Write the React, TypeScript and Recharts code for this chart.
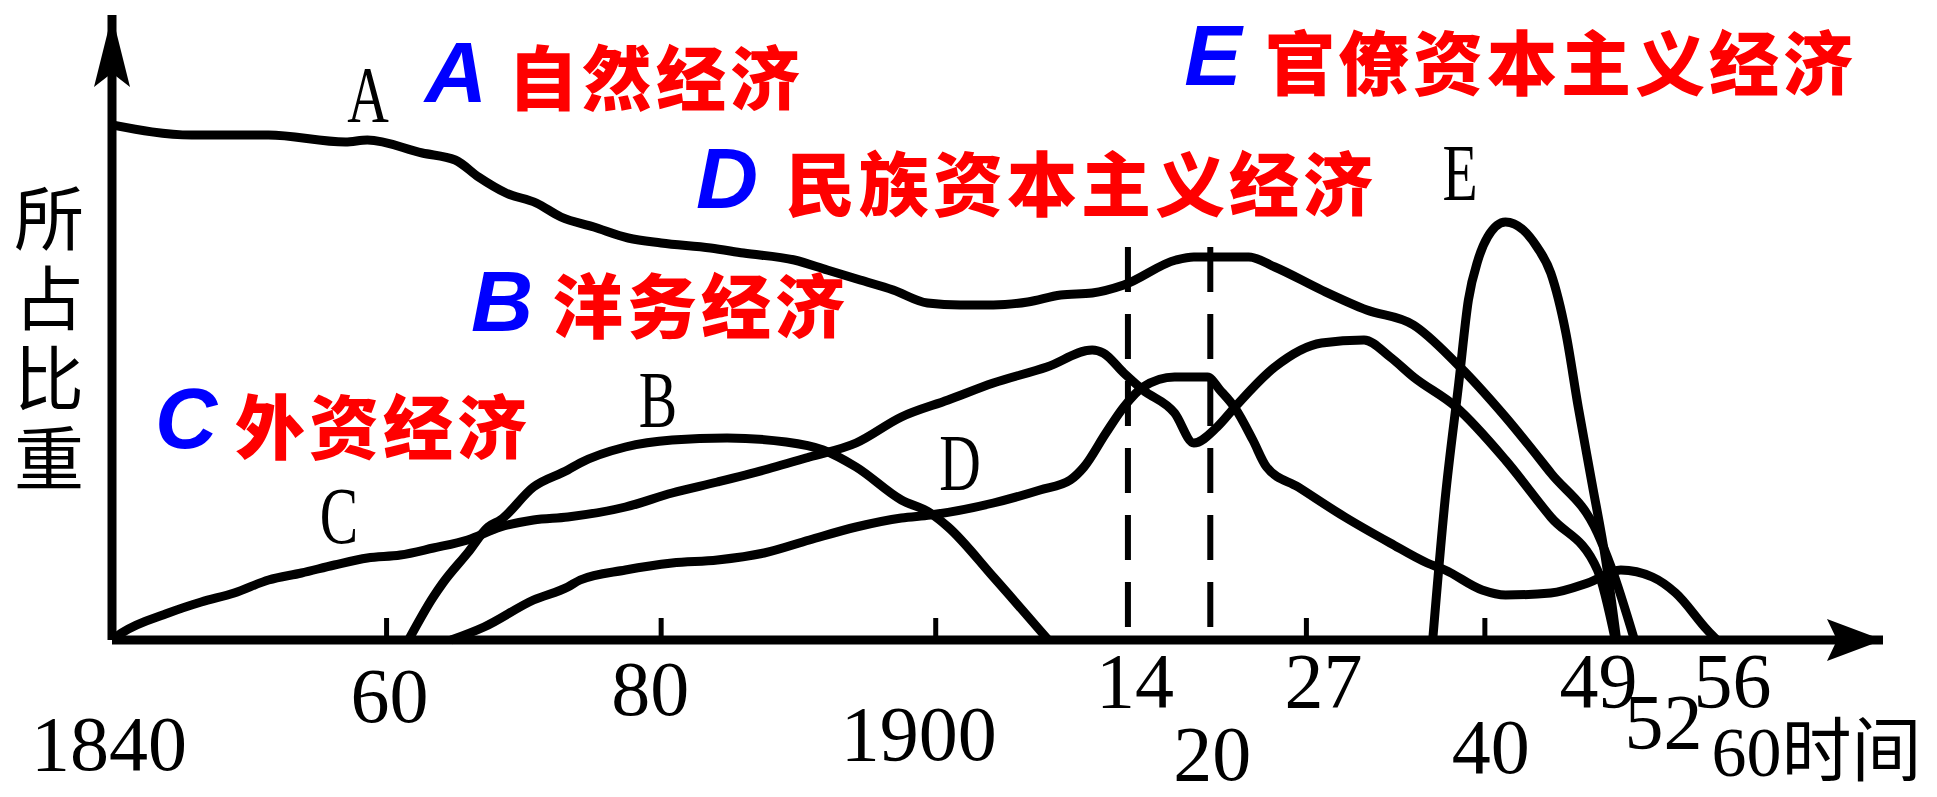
import { LineChart, Line, XAxis, YAxis, ReferenceLine } from "recharts"

// x = year, y = relative share (所占比重)
const A_YEARS = [1840, 1845.8, 1851.4, 1857, 1858.6, 1862.6, 1865, 1866.7, 1868.7, 1870.9, 1872.7, 1875.1, 1877.6, 1880, 1883.6, 1886, 1889.7, 1892.1, 1894.5, 1896.9, 1899.4, 1901.8, 1904.2, 1906.7, 1909.1, 1911.4, 1913.7, 1917.5, 1918.8, 1922.8, 1924.7, 1928.1, 1931.4, 1934.8, 1937.9, 1941.5, 1944.8, 1948.2, 1949.2, 1950.9]
const A_SHARE = [103, 101, 101, 99.6, 100, 97.4, 96, 92.6, 89.4, 87.4, 84.6, 82.6, 80.4, 79.4, 78.4, 77.4, 76, 74, 72, 70, 67.4, 67, 67, 67.6, 69, 69.4, 71, 76, 76.6, 76.6, 74.6, 70, 66, 63, 55.4, 44.6, 33.4, 21.4, 14.6, 0]

const B_YEARS = [1861.6, 1863.4, 1864.1, 1865.9, 1867.4, 1868.3, 1870.7, 1873.2, 1874.1, 1877.4, 1880.8, 1884.8, 1889.1, 1891.8, 1894.2, 1897.5, 1899.6, 1900.9, 1904.2, 1908.2]
const B_SHARE = [0, 8.6, 11.4, 17.4, 22.6, 24, 30.6, 34, 35.4, 38.6, 40, 40.4, 39.6, 38, 34.6, 28, 25.4, 22.6, 12.6, 0]

const C_YEARS = [1840, 1840.7, 1844.1, 1846.5, 1848.9, 1851.4, 1853.8, 1856.2, 1858.6, 1861, 1863.4, 1865.9, 1868.3, 1870.7, 1873.2, 1877.4, 1880.8, 1884.1, 1887.5, 1890.8, 1894.2, 1897.5, 1900.9, 1904.2, 1908.1, 1911.4, 1912.2, 1913.7, 1915.1, 1917.4, 1918.8, 1920.5, 1921.8, 1924.7, 1928.1, 1931.2, 1933.1, 1934.8, 1937.9, 1941.5, 1944.8, 1948.2, 1949.5]
const C_SHARE = [0, 1.4, 5.4, 7.6, 9.4, 12, 13.4, 15, 16.4, 17, 18.4, 20, 22.6, 24, 24.6, 26.6, 29.4, 31.6, 34, 36.6, 39.4, 44.6, 48, 51.4, 54.6, 58, 57.4, 53.4, 50, 45.4, 39.4, 42.6, 46.6, 54.6, 59.4, 60, 56.6, 52.6, 46.6, 36, 24.6, 14, 0]

const D_YEARS = [1864.7, 1867.1, 1870.7, 1873.2, 1874.1, 1877.4, 1880.8, 1884.1, 1887.5, 1890.8, 1894.2, 1897.5, 1899.6, 1904.2, 1907.6, 1909.8, 1910.8, 1912.4, 1913.7, 1915.1, 1917.4, 1919.8, 1920.7, 1921.8, 1923.1, 1924.1, 1926.4, 1929.8, 1933.1, 1935.8, 1937.1, 1939.8, 1941.5, 1944.8, 1947.5, 1949.9, 1952.2, 1953.9, 1956.2, 1956.9]
const D_SHARE = [0, 2.6, 8, 10.6, 12, 14, 15.4, 16, 17.4, 20, 22.6, 24.4, 25, 27.4, 30, 32, 34.6, 41.4, 46.6, 50.6, 52.6, 52.6, 50, 46.4, 40, 34.6, 30.6, 24.6, 19.4, 15.4, 14, 10, 9, 9.4, 11.4, 14, 12.6, 9.4, 2, 0]

const E_YEARS = [1936.2, 1937.1, 1938.1, 1938.8, 1939.5, 1940.2, 1941.5, 1942.8, 1943.8, 1944.8, 1945.9, 1946.8, 1947.8, 1948.8, 1949.6]
const E_SHARE = [0, 28, 51.4, 68, 76, 80.6, 83.6, 82, 78.6, 73.4, 61.4, 46.6, 31.4, 16, 0]

const TICK_YEARS = [1840, 1860, 1880, 1900, 1914, 1920, 1927, 1940, 1949, 1952, 1956, 1960]
const TICK_LABELS = ["1840", "60", "80", "1900", "14", "20", "27", "40", "49", "52", "56", "60时间"]
const MARKED_YEARS = [1860, 1880, 1900, 1927, 1940]
const DASHED_YEARS = [1914, 1920]
const DASH_TOP = 78.6

const SERIES = [
  { key: "A", years: A_YEARS, share: A_SHARE },
  { key: "B", years: B_YEARS, share: B_SHARE },
  { key: "C", years: C_YEARS, share: C_SHARE },
  { key: "D", years: D_YEARS, share: D_SHARE },
  { key: "E", years: E_YEARS, share: E_SHARE },
]

// label placement in the picture (staggered rows), [dx, dy from axis line]
const TICK_OFFSETS = [
  [-3, 130], [3, 82], [-11, 75], [-17, 120], [7, 67], [2, 140],
  [17, 67], [6, 133], [-10, 67], [14, 108], [28, 67], [-48, 136],
]

const LEGEND = [
  { letter: "A", text: "自然经济", lx: 456, ly: 102, tx: 508, ty: 105 },
  { letter: "E", text: "官僚资本主义经济", lx: 1213, ly: 85, tx: 1265, ty: 90 },
  { letter: "D", text: "民族资本主义经济", lx: 727, ly: 208, tx: 785, ty: 211 },
  { letter: "B", text: "洋务经济", lx: 502, ly: 331, tx: 553, ty: 333 },
  { letter: "C", text: "外资经济", lx: 186, ly: 448, tx: 235, ty: 454 },
]

const CURVE_TAGS = [
  { letter: "A", x: 368, y: 122 },
  { letter: "B", x: 658, y: 427 },
  { letter: "C", x: 339, y: 543 },
  { letter: "D", x: 960, y: 490 },
  { letter: "E", x: 1460, y: 200 },
]

const Y_LABEL = "所占比重"

const SERIF = "'Liberation Serif', 'DejaVu Serif', 'Noto Sans CJK SC', serif"
const CJK = "'Noto Sans CJK SC', sans-serif"

function YearTick(props: any) {
  const { x, y, payload } = props
  const i = TICK_YEARS.indexOf(payload.value)
  if (i < 0) return null
  const label = TICK_LABELS[i]
  const [dx, dy] = TICK_OFFSETS[i]
  const isLast = i === TICK_YEARS.length - 1
  return (
    <g>
      {MARKED_YEARS.includes(payload.value) && (
        <line x1={x} x2={x} y1={y} y2={y - 22} stroke="#000" strokeWidth={5} />
      )}
      <text
        x={x + dx}
        y={y + dy}
        textAnchor={isLast ? "start" : "middle"}
        fontFamily={SERIF}
        fontSize={isLast ? 70 : 78}
        fill="#000"
      >
        {label}
      </text>
    </g>
  )
}

export default function App() {
  return (
    <div style={{ position: "absolute", left: 0, top: 0, width: 1937, height: 797, background: "#fff" }}>
      <LineChart width={1937} height={797} margin={{ top: 15, right: 54, bottom: 0, left: 111 }}>
        <defs>
          <marker id="arrowY" markerUnits="userSpaceOnUse" markerWidth={72} markerHeight={36} refX={72} refY={18} orient="auto-start-reverse">
            <path d="M0,0 L72,18 L0,36 L14,18 Z" fill="#000" />
          </marker>
          <marker id="arrowX" markerUnits="userSpaceOnUse" markerWidth={56} markerHeight={42} refX={56} refY={21} orient="auto">
            <path d="M0,0 L56,21 L0,42 L10,21 Z" fill="#000" />
          </marker>
        </defs>
        <XAxis
          type="number"
          dataKey="year"
          domain={[1840, 1969]}
          ticks={TICK_YEARS}
          interval={0}
          allowDataOverflow
          height={157}
          tickSize={0}
          tickMargin={0}
          tickLine={false}
          tick={(p: any) => <YearTick {...p} />}
          axisLine={{ stroke: "#000", strokeWidth: 9, markerEnd: "url(#arrowX)" }}
        />
        <YAxis
          type="number"
          domain={[0, 125]}
          width={1}
          tick={false}
          tickLine={false}
          axisLine={{ stroke: "#000", strokeWidth: 9, markerStart: "url(#arrowY)" }}
        />
        {DASHED_YEARS.map((yr) => (
          <ReferenceLine
            key={yr}
            segment={[{ x: yr, y: DASH_TOP }, { x: yr, y: 0 }]}
            stroke="#000"
            strokeWidth={6}
            strokeDasharray="45 22"
          />
        ))}
        {SERIES.map((s) => (
          <Line
            key={s.key}
            data={s.years.map((year, i) => ({ year, share: s.share[i] }))}
            dataKey="share"
            type="monotone"
            stroke="#000"
            strokeWidth={9}
            strokeLinejoin="round"
            dot={false}
            activeDot={false}
            isAnimationActive={false}
          />
        ))}
      </LineChart>
      <svg width={1937} height={797} style={{ position: "absolute", left: 0, top: 0, pointerEvents: "none" }}>
        <text x={49} y={183} writingMode="vertical-rl" letterSpacing={10} fontFamily={CJK} fontSize={70} fill="#000">
          {Y_LABEL}
        </text>
        {CURVE_TAGS.map((t) => (
          <text
            key={t.letter}
            transform={`translate(${t.x},${t.y}) scale(0.72,1)`}
            textAnchor="middle"
            fontFamily={SERIF}
            fontSize={80}
            fill="#000"
          >
            {t.letter}
          </text>
        ))}
        {LEGEND.map((l) => (
          <g key={l.letter}>
            <text x={l.lx} y={l.ly} textAnchor="middle" fontFamily="'Liberation Sans', Arial, sans-serif" fontStyle="italic" fontWeight={700} fontSize={86} fill="#0000ff">
              {l.letter}
            </text>
            <text x={l.tx} y={l.ty} fontFamily={CJK} fontWeight={900} fontSize={70} letterSpacing={4} fill="#ff0000">
              {l.text}
            </text>
          </g>
        ))}
      </svg>
    </div>
  )
}
